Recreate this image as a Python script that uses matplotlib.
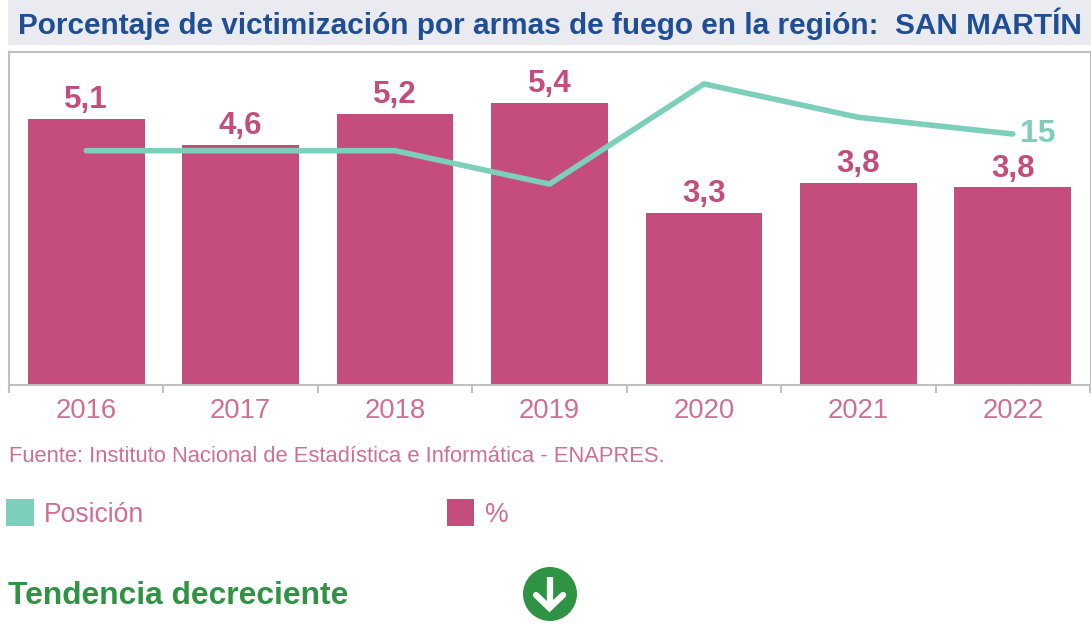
import matplotlib
matplotlib.use('Agg')
import matplotlib.pyplot as plt
from matplotlib.patches import Rectangle, Circle

years = ['2016', '2017', '2018', '2019', '2020', '2021', '2022']
pct = [5.1, 4.6, 5.2, 5.4, 3.3, 3.87, 3.79]
pct_labels = ['5,1', '4,6', '5,2', '5,4', '3,3', '3,8', '3,8']
posicion = [16, 16, 16, 18, 12, 14, 15]

PINK = '#c44d7d'
TEAL = '#7ccfbb'
BLUE = '#1f4e96'
GREEN = '#2e9444'
GREY = '#c0c0c0'
W, H = 1091, 634

plt.rcParams['font.family'] = ['Liberation Sans', 'DejaVu Sans']

fig = plt.figure(figsize=(W / 100, H / 100), dpi=100)

# capa en pixeles para titulo, leyenda e icono
bg = fig.add_axes([0, 0, 1, 1])
bg.set_xlim(0, W)
bg.set_ylim(H, 0)
bg.axis('off')
bg.add_patch(Rectangle((8, 0), W - 8, 45, color='#e9ebf0', lw=0))
bg.text(18, 24, 'Porcentaje de victimización por armas de fuego en la región:  SAN MARTÍN',
        color=BLUE, fontsize=21.4, fontweight='bold', va='center')

# grafico principal
ax = fig.add_axes([9 / W, 1 - 385 / H, (1090 - 9) / W, (385 - 52) / H])
x = list(range(len(years)))
ax.bar(x, pct, width=0.755, color=PINK)
ax.set_xlim(-0.5, 6.5)
ax.set_ylim(0, 6.38)
ax.set_yticks([])
ax.set_xticks(x)
ax.set_xticklabels(years, fontsize=19.7, color='#cf6f95')
ax.set_xticks([i - 0.5 for i in range(8)], minor=True)
ax.tick_params(axis='x', which='major', length=0, pad=9.5)
ax.tick_params(axis='x', which='minor', length=6, width=1.5, color=GREY)
for s in ax.spines.values():
    s.set_color(GREY)
    s.set_linewidth(1.5)
ax.spines['right'].set_linewidth(0.8)
ax.patch.set_alpha(0)
for i, v in enumerate(pct):
    ax.text(i, v + 0.07, pct_labels[i], ha='center', va='bottom', color=PINK,
            fontsize=22.5, fontweight='bold')

# posicion: eje invertido
ax2 = ax.twinx()
ax2.plot(x, posicion, color=TEAL, lw=4, solid_capstyle='round')
ax2.set_ylim(30.03, 10.09)
ax2.set_yticks([])
for s in ax2.spines.values():
    s.set_visible(False)
ax2.annotate(str(posicion[-1]), (x[-1], posicion[-1]), xytext=(5, 0), textcoords='offset points',
             color=TEAL, fontsize=23, fontweight='bold', va='center')

bg.text(9, 456, 'Fuente: Instituto Nacional de Estadística e Informática - ENAPRES.',
        color='#cf6f95', fontsize=15.8, va='center')

# leyenda
bg.add_patch(Rectangle((6, 499), 28, 27, color=TEAL, lw=0))
bg.text(44, 515, 'Posición', color='#cf6f95', fontsize=19.1, va='center')
bg.add_patch(Rectangle((447, 499), 27, 27, color=PINK, lw=0))
bg.text(485, 515, '%', color='#cf6f95', fontsize=19.1, va='center')

# tendencia
bg.text(8, 596, 'Tendencia decreciente', color=GREEN, fontsize=22.9, fontweight='bold', va='center')
bg.add_patch(Circle((550, 594), 27, color=GREEN, lw=0))
bg.plot([549.5, 549.5], [577, 606], color='white', lw=4.5, solid_capstyle='butt')
bg.plot([536, 549.5, 563], [595, 608, 595], color='white', lw=4.5, solid_capstyle='round', solid_joinstyle='miter')

fig.savefig('out.png', dpi=100)
